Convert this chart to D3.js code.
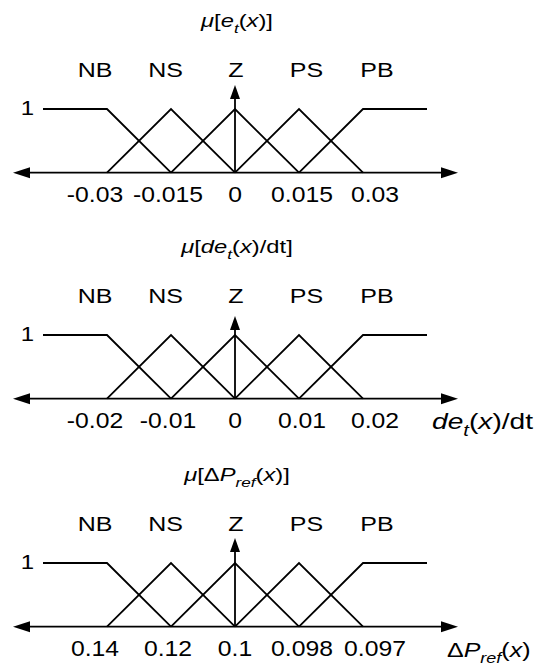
<!DOCTYPE html>
<html>
<head>
<meta charset="utf-8">
<script src="https://cdn.jsdelivr.net/npm/d3@7"></script>
<style>
  html, body { margin: 0; padding: 0; background: #fff; }
  svg { display: block; }
  text { font-family: "Liberation Sans", Arial, Helvetica, sans-serif; fill: #000; }
</style>
</head>
<body>
<svg id="chart" width="536" height="667"></svg>
<script>
// Linguistic terms of the fuzzy sets
const sets = ["NB", "NS", "Z", "PS", "PB"];

// Breakpoints of each membership function: [tick index, membership degree].
// Index -1 and 5 are the open ends of the shoulder functions.
const mfNB = [[-1, 1], [0, 1], [1, 0]];
const mfNS = [[0, 0], [1, 1], [2, 0]];
const mfZ  = [[1, 0], [2, 1], [3, 0]];
const mfPS = [[2, 0], [3, 1], [4, 0]];
const mfPB = [[3, 0], [4, 1], [5, 1]];
const memberships = [mfNB, mfNS, mfZ, mfPS, mfPB];

// Tick labels of the three universes of discourse
const ticksError = ["-0.03", "-0.015", "0", "0.015", "0.03"];
const ticksDeriv = ["-0.02", "-0.01", "0", "0.01", "0.02"];
const ticksPower = ["0.14", "0.12", "0.1", "0.098", "0.097"];

// Rich-text pieces: [text, italic, subscript]
const titleError = [["μ", 1, 0], ["[", 0, 0], ["e", 1, 0], ["t", 1, 1], ["(", 0, 0], ["x", 1, 0], [")]", 0, 0]];
const titleDeriv = [["μ", 1, 0], ["[", 0, 0], ["de", 1, 0], ["t", 1, 1], ["(", 0, 0], ["x", 1, 0], [")/dt]", 0, 0]];
const titlePower = [["μ", 1, 0], ["[Δ", 0, 0], ["P", 1, 0], ["ref", 1, 1], ["(", 0, 0], ["x", 1, 0], [")]", 0, 0]];
const axisDeriv  = [["de", 1, 0], ["t", 1, 1], ["(", 0, 0], ["x", 1, 0], [")/dt", 0, 0]];
const axisPower  = [["Δ", 0, 0], ["P", 1, 0], ["ref", 1, 1], ["(", 0, 0], ["x", 1, 0], [")", 0, 0]];

const panels = [
  { dy: 0,   ticks: ticksError, title: titleError, axisLabel: null,      arrowTop: 85 },
  { dy: 226, ticks: ticksDeriv, title: titleDeriv, axisLabel: axisDeriv, arrowTop: 90 },
  { dy: 454, ticks: ticksPower, title: titlePower, axisLabel: axisPower, arrowTop: 84 }
];

const svg = d3.select("#chart");
const STROKE = 1.8;
// Tick labels are spread slightly outward from their tick marks
const tickSpread = [-12, -3, 0, 3, 12];

// Shared horizontal scales
const x = d3.scaleLinear().domain([0, 4]).range([107, 363]);
const xTerm = d3.scalePoint().domain(sets).range([95, 377]);

function richText(g, pieces, px, py, size, sx, anchor) {
  const t = g.append("text")
    .attr("transform", `translate(${px},${py}) scale(${sx},1)`)
    .attr("text-anchor", anchor)
    .style("font-size", size + "px");
  let sub = false;
  pieces.forEach(([s, it, sb]) => {
    const ts = t.append("tspan").text(s)
      .style("font-style", it ? "italic" : "normal");
    if (sb && !sub) { ts.attr("dy", size * 0.3).style("font-size", (size * 0.72) + "px"); sub = true; }
    else if (sb) { ts.style("font-size", (size * 0.72) + "px"); }
    else if (!sb && sub) { ts.attr("dy", -size * 0.3); sub = false; }
  });
  return t;
}

function plainText(g, s, px, py, size, sx) {
  return g.append("text")
    .attr("transform", `translate(${px},${py}) scale(${sx},1)`)
    .attr("text-anchor", "middle").style("font-size", size + "px").text(s);
}

function arrowHead(g, tipX, tipY, dir, len, half) {
  let pts;
  if (dir === "left") pts = [[tipX, tipY], [tipX + len, tipY - half], [tipX + len, tipY + half]];
  else if (dir === "right") pts = [[tipX, tipY], [tipX - len, tipY - half], [tipX - len, tipY + half]];
  else pts = [[tipX, tipY], [tipX - half, tipY + len], [tipX + half, tipY + len]];
  g.append("path").attr("d", d3.line()(pts) + "Z").attr("fill", "#000");
}

panels.forEach(p => {
  const g = svg.append("g").attr("transform", `translate(0,${p.dy})`);
  const y = d3.scaleLinear().domain([0, 1]).range([172.7, 109]);

  // Title
  richText(g, p.title, 237, 27, 19, 1.25, "middle");

  // Term labels
  sets.forEach(s => plainText(g, s, xTerm(s), 77, 20, 1.25));

  // Membership degree label
  plainText(g, "1", 27.5, 115, 20, 1.2);

  // Horizontal axis with arrows at both ends
  const axY = y(0);
  g.append("line").attr("x1", 20).attr("x2", 450).attr("y1", axY).attr("y2", axY)
    .attr("stroke", "#000").attr("stroke-width", STROKE);
  arrowHead(g, 13, axY, "left", 17, 5.5);
  arrowHead(g, 458, axY, "right", 17, 5.5);

  // Vertical axis at the centre term
  const x0 = x(2);
  g.append("line").attr("x1", x0).attr("x2", x0).attr("y1", axY).attr("y2", p.arrowTop + 8)
    .attr("stroke", "#000").attr("stroke-width", STROKE);
  arrowHead(g, x0, p.arrowTop, "up", 14, 5);

  // Membership functions
  const line = d3.line().x(d => x(d[0])).y(d => y(d[1]));
  g.selectAll("path.mf").data(memberships).enter().append("path")
    .attr("class", "mf")
    .attr("d", line)
    .attr("fill", "none").attr("stroke", "#000").attr("stroke-width", STROKE)
    .attr("stroke-linejoin", "miter");

  // Tick labels
  p.ticks.forEach((t, i) => plainText(g, t, x(i) + tickSpread[i], 202, 21.5, 1.15));

  // Axis quantity label
  if (p.axisLabel === axisDeriv) richText(g, p.axisLabel, 432, 203, 22, 1.28, "start");
  else if (p.axisLabel) richText(g, p.axisLabel, 447, 203, 20, 1.25, "start");
});
</script>
</body>
</html>
